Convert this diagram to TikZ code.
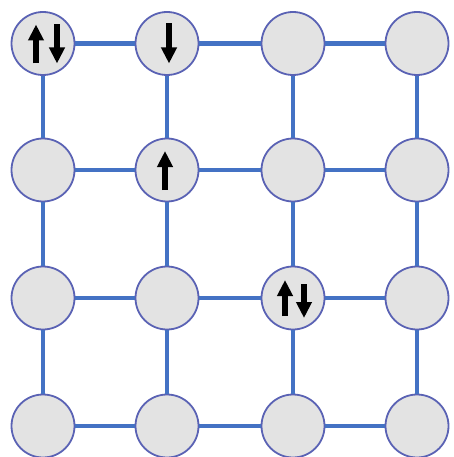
\documentclass[tikz,border=0pt]{standalone}
\usetikzlibrary{arrows.meta,calc}
\definecolor{edgeblue}{HTML}{4472C4}
\definecolor{ringblue}{HTML}{5A62B4}
\definecolor{sitegray}{HTML}{E3E3E3}
\begin{document}
\begin{tikzpicture}[x=1pt,y=-1pt,
  site/.style={circle,draw=ringblue,line width=1.8pt,fill=sitegray,minimum size=63pt,inner sep=0pt},
  bond/.style={draw=edgeblue,line width=4.6pt},
  spin/.style={line width=5.5pt,-{Triangle[width=15pt,length=16pt]}}]
\useasboundingbox (0,0) rectangle (453,457);
% sites
\foreach \r/\y in {1/43.5,2/170,3/298,4/426}{
  \foreach \c/\x in {1/43,2/167,3/293,4/417}{
    \node[site] (s\r\c) at (\x,\y) {};
  }
}
% bonds
\foreach \r in {1,2,3,4}{
  \draw[bond] (s\r1) -- (s\r2);
  \draw[bond] (s\r2) -- (s\r3);
  \draw[bond] (s\r3) -- (s\r4);
}
\foreach \c in {1,2,3,4}{
  \draw[bond] (s1\c) -- (s2\c);
  \draw[bond] (s2\c) -- (s3\c);
  \draw[bond] (s3\c) -- (s4\c);
}
% spins
\draw[spin] ($(s11)+(-7,20)$) -- ($(s11)+(-7,-19)$);
\draw[spin] ($(s11)+(14,-19)$) -- ($(s11)+(14,20)$);
\draw[spin] ($(s12)+(2,-20)$) -- ($(s12)+(2,20)$);
\draw[spin] ($(s22)+(-2,20)$) -- ($(s22)+(-2,-19)$);
\draw[spin] ($(s33)+(-8,18)$) -- ($(s33)+(-8,-18)$);
\draw[spin] ($(s33)+(11,-14)$) -- ($(s33)+(11,20)$);
\end{tikzpicture}
\end{document}
